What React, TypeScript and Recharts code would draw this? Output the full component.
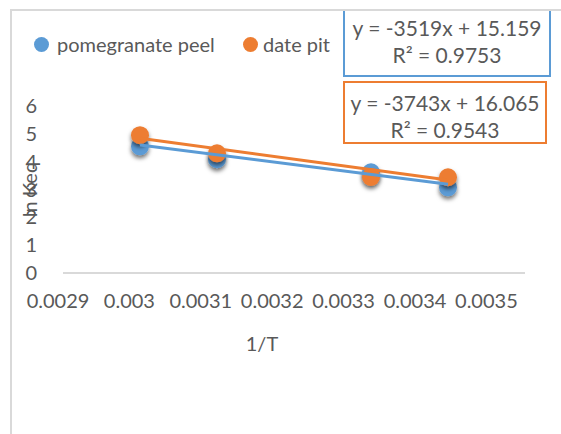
import { ScatterChart, Scatter, XAxis, YAxis } from 'recharts';

const xValues = [0.003, 0.0031, 0.0033, 0.0034];
const pomegranatePeel = [4.55, 4.09, 3.62, 3.08];
const datePit = [4.95, 4.3, 3.45, 3.44];

// trendline end points (as shown in the picture)
const trendX = [0.003, 0.0034];
const pomegranateTrend = [4.6, 3.19];
const datePitTrend = [4.84, 3.34];

const xTicks = [0.0029, 0.003, 0.0031, 0.0032, 0.0033, 0.0034, 0.0035];
const yTicks = [0, 1, 2, 3, 4, 5, 6];

const BLUE = '#5B9BD5';
const ORANGE = '#ED7D31';
const TEXT = '#595959';
const FONT = 'Lato, "Open Sans", sans-serif';

const toPoints = (xs: number[], ys: number[]) => xs.map((x, i) => ({ x, y: ys[i] }));

const peelData = toPoints(xValues, pomegranatePeel);
const pitData = toPoints(xValues, datePit);
const peelTrend = toPoints(trendX, pomegranateTrend);
const pitTrend = toPoints(trendX, datePitTrend);

const Marker = (color: string) => (props: any) => (
  <circle cx={props.cx} cy={props.cy} r={9} fill={color} filter="url(#dotShadow)" />
);

const NoShape = () => null;

const XTick = (props: any) => {
  const { x, y, payload, index } = props;
  return (
    <text x={x - 5 - index * 5.6} y={y} dy={27} textAnchor="middle" fill={TEXT} fontSize={20} fontFamily={FONT}>
      {String(payload.value)}
    </text>
  );
};

const boxText: React.CSSProperties = {
  fontFamily: FONT,
  fontSize: 21,
  color: TEXT,
  textAlign: 'center',
  lineHeight: '27px',
};

const legendText: React.CSSProperties = {
  position: 'absolute',
  top: 31,
  fontFamily: FONT,
  fontSize: 20,
  color: TEXT,
  lineHeight: '26px',
  whiteSpace: 'nowrap',
};

const dot = (left: number, color: string): React.CSSProperties => ({
  position: 'absolute',
  left,
  top: 37,
  width: 15,
  height: 15,
  borderRadius: 8,
  background: color,
});

export default function App() {
  return (
    <div style={{ position: 'absolute', left: 0, top: 0, width: 561, height: 434, background: '#fff', overflow: 'hidden' }}>
      <svg width={0} height={0} style={{ position: 'absolute' }}>
        <defs>
          <filter id="dotShadow" x="-50%" y="-50%" width="200%" height="200%">
            <feDropShadow dx="0" dy="3" stdDeviation="2" floodColor="#000" floodOpacity="0.55" />
          </filter>
        </defs>
      </svg>

      <div style={{ position: 'absolute', left: 10, top: 9, width: 560, height: 430, borderTop: '2px solid #d9d9d9', borderLeft: '2px solid #d9d9d9' }} />

      <div style={{ position: 'absolute', left: 0, top: 0 }}>
        <ScatterChart width={561} height={434} margin={{ top: 106, right: 36, bottom: 131, left: 0 }}>
          <XAxis
            type="number"
            dataKey="x"
            domain={[0.0029, 0.0035]}
            ticks={xTicks}
            interval={0}
            tickLine={false}
            axisLine={{ stroke: '#d9d9d9', strokeWidth: 2 }}
            tick={<XTick />}
            height={30}
            label={{ value: '1/T', position: 'bottom', offset: 34, dx: -32, fill: TEXT, fontSize: 20, fontFamily: FONT }}
          />
          <YAxis
            type="number"
            dataKey="y"
            domain={[0, 6]}
            ticks={yTicks}
            interval={0}
            width={63}
            tickLine={false}
            axisLine={false}
            tick={{ fill: TEXT, fontSize: 20, fontFamily: FONT, dx: -18 }}
            label={{ value: 'ln Keq', angle: -90, position: 'center', dx: -2, fill: TEXT, fontSize: 20, fontFamily: FONT }}
          />
          <Scatter name="pomegranate peel" data={peelData} shape={Marker(BLUE)} isAnimationActive={false} />
          <Scatter name="date pit" data={pitData} shape={Marker(ORANGE)} isAnimationActive={false} />
          <Scatter data={peelTrend} line={{ stroke: BLUE, strokeWidth: 3 }} shape={NoShape} isAnimationActive={false} />
          <Scatter data={pitTrend} line={{ stroke: ORANGE, strokeWidth: 3 }} shape={NoShape} isAnimationActive={false} />
        </ScatterChart>
      </div>

      {/* legend */}
      <div style={dot(34, BLUE)} />
      <div style={{ ...legendText, left: 57 }}>pomegranate peel</div>
      <div style={dot(243, ORANGE)} />
      <div style={{ ...legendText, left: 263 }}>date pit</div>

      {/* trendline equations */}
      <div style={{ position: 'absolute', left: 343, top: 11, width: 204, height: 61, borderLeft: `2px solid ${BLUE}`, borderRight: `2px solid ${BLUE}`, borderBottom: `2px solid ${BLUE}`, background: '#fff', paddingTop: 3, boxSizing: 'content-box', ...boxText }}>
        <div>y = -3519x + 15.159</div>
        <div>R² = 0.9753</div>
      </div>
      <div style={{ position: 'absolute', left: 343, top: 81, width: 204, height: 63, border: `2px solid ${ORANGE}`, background: '#fff', ...boxText, paddingTop: 6, boxSizing: 'border-box' }}>
        <div>y = -3743x + 16.065</div>
        <div>R² = 0.9543</div>
      </div>
    </div>
  );
}
